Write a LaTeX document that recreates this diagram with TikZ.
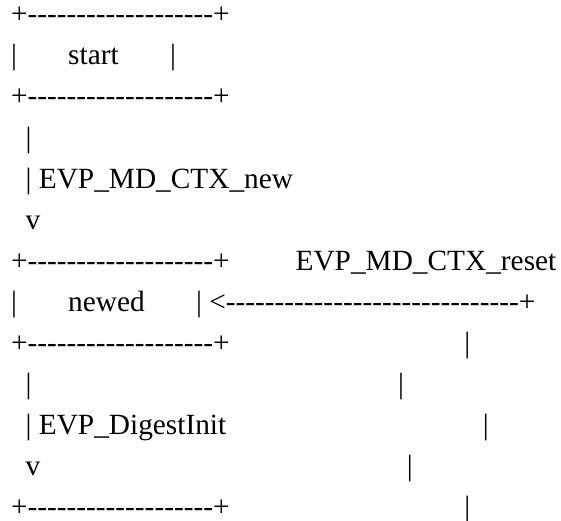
\documentclass[tikz,border=0pt]{standalone}
\usepackage{fontspec}
\setmainfont{Liberation Serif}[Ligatures=TeXOff]
\newcommand\spc[1]{\hspace*{#1\fontdimen2\font}}
\ExplSyntaxOn
\NewDocumentCommand\myrep{mm}{\prg_replicate:nn{#1}{#2}}
\ExplSyntaxOff
\newcommand\boxline{+\myrep{19}{-}+}
\tikzset{asc/.style={anchor=base west, inner sep=0pt, outer sep=0pt, text=black,
  font=\fontsize{29.33}{41}\selectfont}}
\begin{document}
\begin{tikzpicture}[x=1pt,y=1pt]
\useasboundingbox (0,0) rectangle (561,520);
\node[asc] (l1)  at (11,496.2)  {\boxline};
\node[asc] (l2)  at (11,455.13) {|\spc{7}start\spc{7}|};
\node[asc] (l3)  at (11,414.06) {\boxline};
\node[asc] (l4)  at (11,372.99) {\spc{2}|};
\node[asc] (l5)  at (11,331.92) {\spc{2}|\spc{1}EVP\_MD\_CTX\_new};
\node[asc] (l6)  at (11,290.85) {\spc{2}v};
\node[asc] (l7)  at (11,249.78) {\boxline\spc{9}EVP\_MD\_CTX\_reset};
\node[asc] (l8)  at (11,208.71) {|\spc{7}newed\spc{7}|\spc{1}<\myrep{30}{-}+};
\node[asc] (l9)  at (11,167.64) {\boxline\spc{32}|};
\node[asc] (l10) at (11,126.57) {\spc{2}|\spc{50}|};
\node[asc] (l11) at (11,85.5)   {\spc{2}|\spc{1}EVP\_DigestInit\spc{35}|};
\node[asc] (l12) at (11,44.43)  {\spc{2}v\spc{50}|};
\node[asc] (l13) at (11,3.36)   {\boxline\spc{32}|};
\end{tikzpicture}
\end{document}
